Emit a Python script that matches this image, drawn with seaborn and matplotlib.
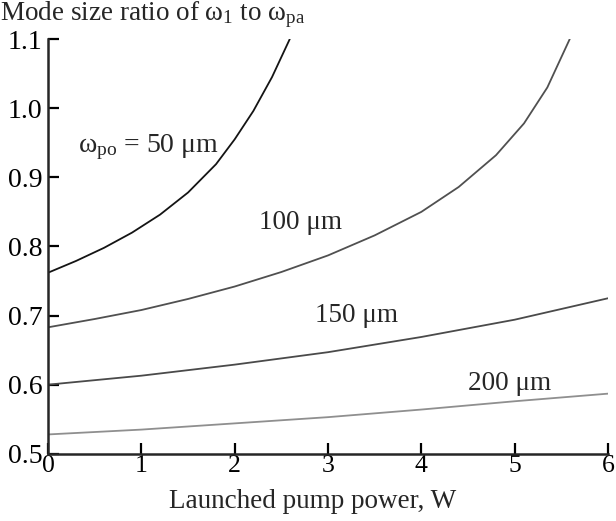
import matplotlib
matplotlib.use("Agg")
import matplotlib.pyplot as plt
import seaborn as sns
import pandas as pd

# Data
x_50 = [0.0, 0.3, 0.6, 0.9, 1.2, 1.5, 1.8, 2.0, 2.2, 2.4, 2.59]
y_50 = [0.762, 0.779, 0.798, 0.820, 0.846, 0.878, 0.919, 0.955, 0.996, 1.045, 1.100]

x_100 = [0.0, 0.5, 1.0, 1.5, 2.0, 2.5, 3.0, 3.5, 4.0, 4.4, 4.8, 5.1, 5.35, 5.59]
y_100 = [0.683, 0.695, 0.708, 0.724, 0.742, 0.763, 0.787, 0.816, 0.850, 0.886,
         0.932, 0.978, 1.030, 1.100]

x_150 = [0, 1, 2, 3, 4, 5, 6]
y_150 = [0.600, 0.613, 0.629, 0.647, 0.669, 0.694, 0.725]

x_200 = [0, 1, 2, 3, 4, 5, 6]
y_200 = [0.528, 0.535, 0.544, 0.553, 0.564, 0.576, 0.587]

series = ["50", "100", "150", "200"]
labels = ["ω$_{\\rm po}$ = 50 μm", "100 μm", "150 μm", "200 μm"]
xticks = [0, 1, 2, 3, 4, 5, 6]
yticks = [0.5, 0.6, 0.7, 0.8, 0.9, 1.0, 1.1]

frames = []
for name, xs, ys in zip(series, [x_50, x_100, x_150, x_200], [y_50, y_100, y_150, y_200]):
    frames.append(pd.DataFrame({"x": xs, "y": ys, "s": name}))
df = pd.concat(frames, ignore_index=True)

sns.set_style("ticks")
plt.rcParams["font.family"] = ["Liberation Serif", "DejaVu Serif"]
plt.rcParams["mathtext.fontset"] = "custom"
plt.rcParams["mathtext.rm"] = "Liberation Serif"
plt.rcParams["mathtext.it"] = "Liberation Serif:italic"

fig = plt.figure(figsize=(6.16, 5.21), dpi=100)
ax = fig.add_axes([0.078, 0.129, 0.909, 0.796])

palette = {"50": "#141414", "100": "#505050", "150": "#4a4a4a", "200": "#8f8f8f"}
sns.lineplot(data=df, x="x", y="y", hue="s", palette=palette, legend=False,
             sort=False, estimator=None, linewidth=1.3, ax=ax)

ax.set_xlim(0, 6)
ax.set_ylim(0.5, 1.1)
ax.set_xticks(xticks)
ax.set_yticks(yticks)
ax.set_xticklabels([str(t) for t in xticks])
ax.set_yticklabels([f"{t:.1f}" for t in yticks])
for s in ["top", "right"]:
    ax.spines[s].set_visible(False)
for s in ["left", "bottom"]:
    ax.spines[s].set_linewidth(1.8)
ax.tick_params(direction="in", length=8, width=1.6, labelsize=20, colors="black")
ax.tick_params(axis="x", labelsize=18.5, pad=1)
ax.tick_params(axis="y", pad=4)

ax.set_xlabel("")
ax.set_ylabel("")
fig.text(0.507, 0.024, "Launched pump power, W", fontsize=19.5, ha="center", va="baseline")
fig.text(0.0, 0.972, "Mode size ratio of ω$_1$ to ω$_{\\rm pa}$", fontsize=19.5,
         ha="left", va="center")

ax.text(0.32, 0.943, labels[0], fontsize=20, ha="left", va="center")
ax.text(2.70, 0.835, labels[1], fontsize=19.5, ha="center", va="center")
ax.text(3.31, 0.700, labels[2], fontsize=19.5, ha="center", va="center")
ax.text(4.95, 0.601, labels[3], fontsize=19.5, ha="center", va="center")

fig.savefig("out.png", dpi=100)
